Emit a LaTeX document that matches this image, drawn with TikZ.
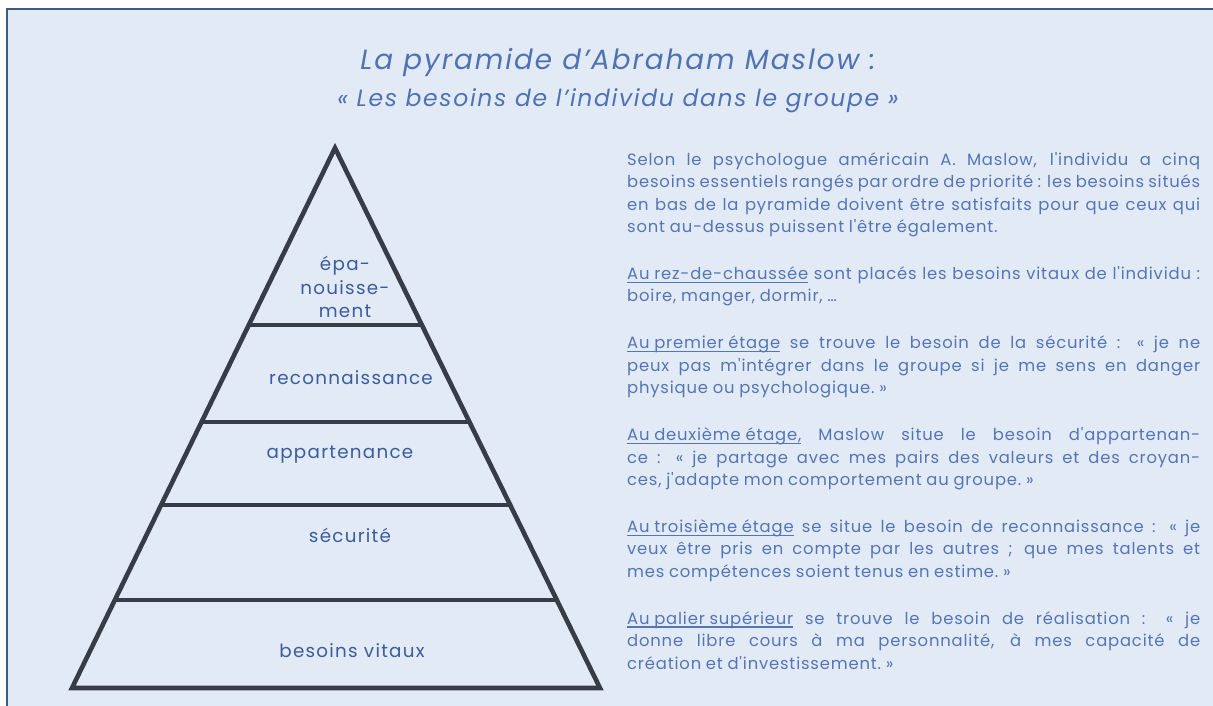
\documentclass[tikz,border=0pt]{standalone}
\usepackage{fontspec}
\setmainfont{Poppins}[LetterSpace=7]
\newfontfamily\corps{Poppins}[LetterSpace=5, WordSpace={0.9,1.3,1.1}]
\usetikzlibrary{calc}

\definecolor{fond}{HTML}{E2EAF5}
\definecolor{cadre}{HTML}{3C5A8A}
\definecolor{titre}{HTML}{4E72B4}
\definecolor{texte}{HTML}{5475B6}
\definecolor{etiquette}{HTML}{3B5C9E}
\definecolor{trait}{HTML}{373D47}

% soulignement a hauteur fixe
\newcommand\souligne[1]{\leavevmode\setbox0\hbox{#1}\rlap{\vrule height -2.2pt depth 3.4pt width\wd0}\box0\relax}

\tikzset{
  cote/.style={draw=trait, line width=4.6pt, line join=miter},
  palier/.style={draw=trait, line width=4pt},
  etage/.style={text=etiquette, font=\fontsize{18.3}{23.5}\selectfont, inner sep=0pt, align=center},
  titrenode/.style={text=titre, inner sep=0pt},
  para/.style={text=texte, inner sep=0pt, text width=573pt, align=justify,
    font=\corps\fontsize{16.4}{22.4}\selectfont}
}

\begin{document}
\begin{tikzpicture}[x=1pt, y=-1pt]
    % fond et cadre
    \useasboundingbox (0,0) rectangle (1213,706);
    \fill [white] (0,0) rectangle (1213,706);
    \fill [fond] (7,9) rectangle (1213,706);
    \draw [cadre, line width=2pt] (7,706) -- (7,9) -- (1213,9);

    % titre
    \node [titrenode, font=\fontsize{27.8}{32}\selectfont\itshape] (titre1) at (618,63) {La pyramide d'Abraham Maslow :};
    \node [titrenode, font=\fontsize{23.5}{28}\selectfont\itshape] (titre2) at (618,101) {« Les besoins de l'individu dans le groupe »};

    % pyramide
    \coordinate (sommet) at (335,148);
    \coordinate (bg) at (72,688);
    \coordinate (bd) at (600,688);
    \draw [cote] (sommet) -- (bd) -- (bg) -- cycle;
    \foreach \f in {0.328,0.507,0.661,0.837}
        \draw [palier] ($(sommet)!\f!(bg)$) -- ($(sommet)!\f!(bd)$);

    \node [etage] (epanouissement) at (345,287) {épa-\\nouisse-\\ment};
    \node [etage] (reconnaissance) at (351,378) {reconnaissance};
    \node [etage] (appartenance) at (340,455) {appartenance};
    \node [etage] (securite) at (350,535) {sécurité};
    \node [etage] (vitaux) at (352,651) {besoins vitaux};

    % texte explicatif
    \node [para, anchor=north west] (explication) at (627,152) {%
        \setlength{\parskip}{24.6pt}%
        Selon le psychologue américain A. Maslow, l'individu a cinq\linebreak
        besoins essentiels rangés par ordre de priorité : les besoins situés\linebreak
        en bas de la pyramide doivent être satisfaits pour que ceux qui\linebreak
        sont au-dessus puissent l'être également.\par
        \souligne{Au rez-de-chaussée} sont placés les besoins vitaux de l'individu :\linebreak
        boire, manger, dormir, \dots\par
        \souligne{Au premier étage} se trouve le besoin de la sécurité : «~je ne\linebreak
        peux pas m'intégrer dans le groupe si je me sens en danger\linebreak
        physique ou psychologique.~»\par
        \souligne{Au deuxième étage,} Maslow situe le besoin d'appartenan-\linebreak
        ce : «~je partage avec mes pairs des valeurs et des croyan-\linebreak
        ces, j'adapte mon comportement au groupe.~»\par
        \souligne{Au troisième étage} se situe le besoin de reconnaissance : «~je\linebreak
        veux être pris en compte par les autres ; que mes talents et\linebreak
        mes compétences soient tenus en estime.~»\par
        \souligne{Au palier supérieur} se trouve le besoin de réalisation : «~je\linebreak
        donne libre cours à ma personnalité, à mes capacité de\linebreak
        création et d'investissement.~»};
\end{tikzpicture}
\end{document}
